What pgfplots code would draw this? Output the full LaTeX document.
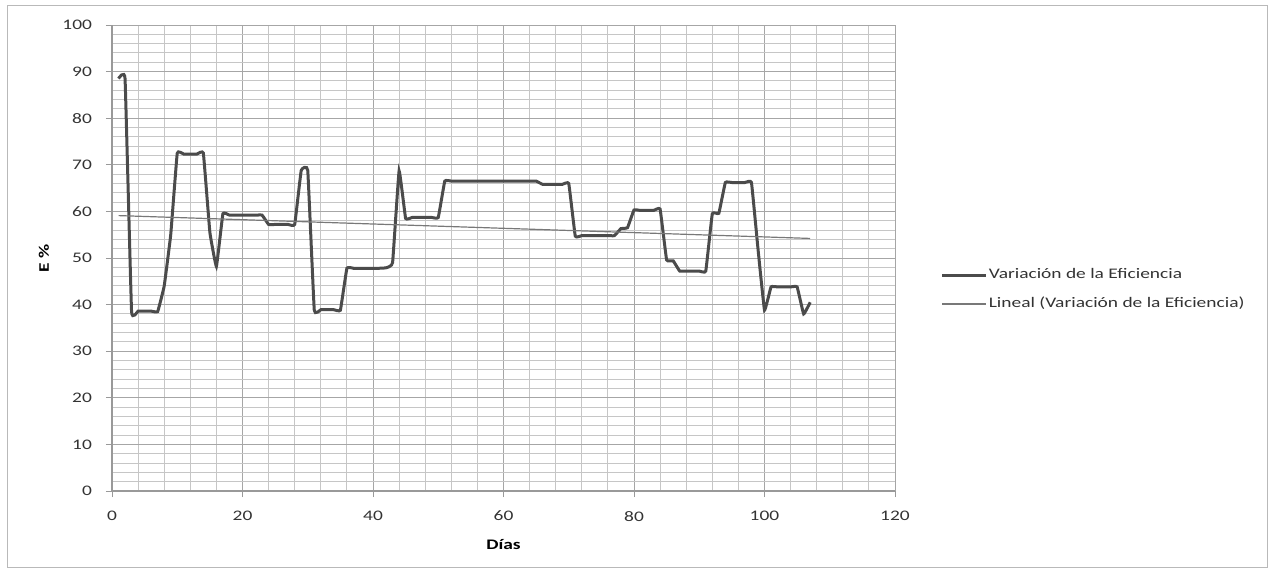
\documentclass[border=0pt]{standalone}
\usepackage{pgfplots}
\pgfplotsset{compat=1.18}
\usepackage{fontspec}
\setmainfont{Carlito}[FakeStretch=1.33]
\definecolor{mainline}{RGB}{75,75,75}
\definecolor{trend}{RGB}{120,120,120}
\begin{document}
\begin{tikzpicture}[font=\fontsize{7.3pt}{8.8pt}\selectfont]
\useasboundingbox (-56pt,-39pt) rectangle (579pt,245.5pt);
\draw[gray!55, line width=0.5pt] (-52pt,-38pt) rectangle (577.5pt,243pt);
\begin{axis}[
  at={(0,0)}, anchor=south west,
  scale only axis, width=391.5pt, height=233pt,
  xmin=0, xmax=120, ymin=0, ymax=100,
  xtick={0,20,...,120}, ytick={0,10,...,100},
  minor x tick num=4, minor y tick num=4,
  grid=both,
  major grid style={gray!70, line width=0.5pt},
  minor grid style={gray!45, line width=0.5pt},
  axis lines*=left,
  axis line style={gray!80, line width=0.6pt},
  tick align=outside, major tick length=3pt, minor tick length=0pt,
  tick style={gray!80, line width=0.5pt},
  /pgf/number format/assume math mode=true,
  xticklabel style={yshift=-3.5pt, text=black!80},
  yticklabel style={xshift=-3.5pt, text=black!80},
  xlabel={\textbf{Días}}, ylabel={\textbf{E \%}},
  xlabel style={at={(axis description cs:0.5,0)}, anchor=center, yshift=-27pt},
  ylabel style={at={(axis description cs:0,0.5)}, anchor=center, yshift=34pt},
  legend style={draw=none, fill=none, at={(rel axis cs:1.058,0.432)}, anchor=west,
    inner sep=0pt, row sep=6.8pt,
    nodes={inner sep=0.5pt, text=black!80}},
  legend cell align=left,
  legend image code/.code={\draw[#1] (0pt,0pt) -- (22pt,0pt);},
]
\addplot[mainline, line width=1.5pt, smooth, tension=0.15] coordinates {
(1,88.5)(2,88.5)(3,38.5)(4,38.6)(5,38.6)(6,38.6)(7,38.5)(8,44)(9,55)(10,72.5)
(11,72.3)(12,72.3)(13,72.3)(14,72.5)(15,55.5)(16,48.2)(17,59.5)(18,59.2)(19,59.2)(20,59.2)
(21,59.2)(22,59.2)(23,59.2)(24,57.2)(25,57.2)(26,57.2)(27,57.2)(28,57.2)(29,68.8)(30,68.8)
(31,38.8)(32,38.9)(33,38.9)(34,38.9)(35,38.8)(36,47.8)(37,47.8)(38,47.8)(39,47.8)(40,47.8)
(41,47.8)(42,47.9)(43,49)(44,68.7)(45,58.5)(46,58.7)(47,58.7)(48,58.7)(49,58.7)(50,58.7)
(51,66.5)(52,66.5)(53,66.5)(54,66.5)(55,66.5)(56,66.5)(57,66.5)(58,66.5)(59,66.5)(60,66.5)
(61,66.5)(62,66.5)(63,66.5)(64,66.5)(65,66.5)(66,65.8)(67,65.8)(68,65.8)(69,65.8)(70,66)
(71,54.7)(72,54.8)(73,54.8)(74,54.8)(75,54.8)(76,54.8)(77,54.8)(78,56.3)(79,56.5)(80,60.3)
(81,60.2)(82,60.2)(83,60.2)(84,60.5)(85,49.6)(86,49.4)(87,47.2)(88,47.2)(89,47.2)(90,47.2)
(91,47.2)(92,59.5)(93,59.6)(94,66.2)(95,66.2)(96,66.2)(97,66.2)(98,66.2)(99,52)(100,38.8)
(101,43.8)(102,43.8)(103,43.8)(104,43.8)(105,43.8)(106,38)(107,40.5)
};
\addlegendentry{Variación de la Eficiencia}
\addplot[trend, line width=0.6pt] coordinates {(1,59.1)(107,54.2)};
\addlegendentry{Lineal (Variación de la Eficiencia)}
\end{axis}
\end{tikzpicture}
\end{document}
